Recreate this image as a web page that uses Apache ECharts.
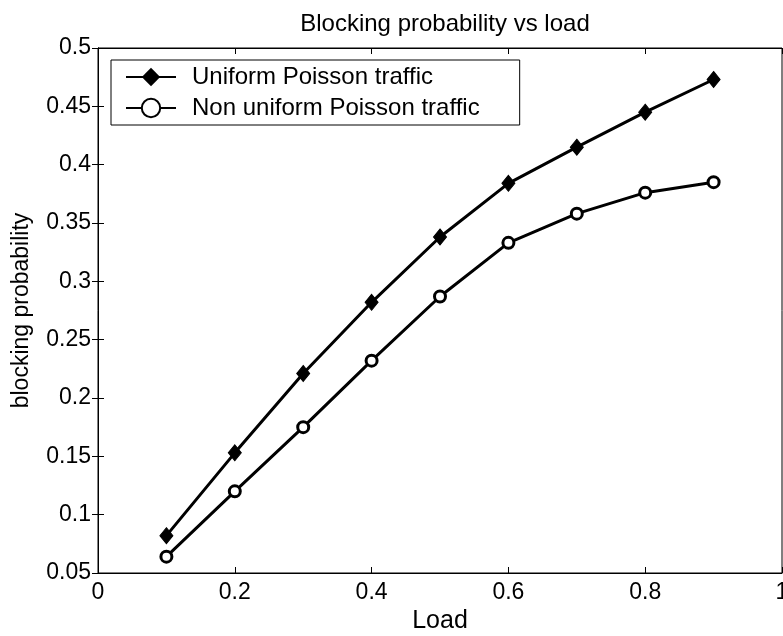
<!DOCTYPE html>
<html>
<head>
<meta charset="utf-8">
<script src="https://cdn.jsdelivr.net/npm/echarts@6/dist/echarts.min.js"></script>
<style>html,body{margin:0;padding:0;background:#fff;}#c{width:783px;height:636px;}</style>
</head>
<body>
<div id="c"></div>
<script>
var loads = [0.1, 0.2, 0.3, 0.4, 0.5, 0.6, 0.7, 0.8, 0.9];
var uniform = [0.082, 0.153, 0.221, 0.282, 0.338, 0.384, 0.415, 0.445, 0.473];
var nonUniform = [0.064, 0.120, 0.175, 0.232, 0.287, 0.333, 0.358, 0.376, 0.385];
var seriesNames = ['Uniform Poisson traffic', 'Non uniform Poisson traffic'];
var titleText = 'Blocking probability vs load';
var xName = 'Load';
var yName = 'blocking probability';

function pairs(xs, ys) { return xs.map(function (x, i) { return [x, ys[i]]; }); }
var fmt = function (v) { return String(+v.toFixed(2)); };
var font = 'Liberation Sans, Arial, sans-serif';

var chart = echarts.init(document.getElementById('c'));
chart.setOption({
  animation: false,
  backgroundColor: '#fff',
  title: {
    text: titleText, left: 440, top: 7, textAlign: 'center',
    textStyle: { fontFamily: font, fontSize: 24, fontWeight: 'normal', color: '#000' }
  },
  legend: {
    orient: 'vertical', left: 111, top: 60,
    padding: [5, 40, 5, 14], itemGap: 7, itemWidth: 50, itemHeight: 23,
    borderColor: '#000', borderWidth: 1, borderRadius: 0,
    textStyle: { fontFamily: font, fontSize: 24, color: '#000', padding: [0, 0, 0, 11] },
    data: seriesNames
  },
  grid: {
    left: 98, right: 1, top: 48, bottom: 63,
    containLabel: false, outerBoundsMode: 'none',
    show: true, borderColor: '#000', borderWidth: 1
  },
  xAxis: [{
    type: 'value', min: 0, max: 1, interval: 0.2,
    name: xName, nameLocation: 'middle', nameGap: 36,
    nameTextStyle: { fontFamily: font, fontSize: 25, color: '#000' },
    axisLine: { show: true, lineStyle: { color: '#000', width: 1 } },
    axisTick: { inside: true, length: 6, lineStyle: { color: '#000' } },
    axisLabel: { formatter: fmt, margin: 8, fontFamily: font, fontSize: 23, color: '#000' },
    splitLine: { show: false }
  }, {
    type: 'value', min: 0, max: 1, interval: 0.2, position: 'top',
    axisLine: { show: true, lineStyle: { color: '#000' } },
    axisTick: { inside: true, length: 6, lineStyle: { color: '#000' } },
    axisLabel: { show: false }, splitLine: { show: false }
  }],
  yAxis: [{
    type: 'value', min: 0.05, max: 0.5, interval: 0.05,
    name: yName, nameLocation: 'middle', nameGap: 65,
    nameTextStyle: { fontFamily: font, fontSize: 23, color: '#000' },
    axisLine: { show: true, lineStyle: { color: '#000', width: 1 } },
    axisTick: { inside: true, length: 6, lineStyle: { color: '#000' } },
    axisLabel: { formatter: fmt, margin: 7, fontFamily: font, fontSize: 23, color: '#000' },
    splitLine: { show: false }
  }, {
    type: 'value', min: 0.05, max: 0.5, interval: 0.05, position: 'right',
    axisLine: { show: true, lineStyle: { color: '#000' } },
    axisTick: { inside: true, length: 6, lineStyle: { color: '#000' } },
    axisLabel: { show: false }, splitLine: { show: false }
  }],
  series: [{
    name: seriesNames[0], type: 'line', data: pairs(loads, uniform),
    symbol: 'diamond', symbolSize: [13, 16],
    lineStyle: { color: '#000', width: 3 },
    itemStyle: { color: '#000', borderColor: '#000' }
  }, {
    name: seriesNames[1], type: 'line', data: pairs(loads, nonUniform),
    symbol: 'circle', symbolSize: 11,
    lineStyle: { color: '#000', width: 3 },
    itemStyle: { color: '#fff', borderColor: '#000', borderWidth: 3 }
  }]
});
</script>
</body>
</html>
